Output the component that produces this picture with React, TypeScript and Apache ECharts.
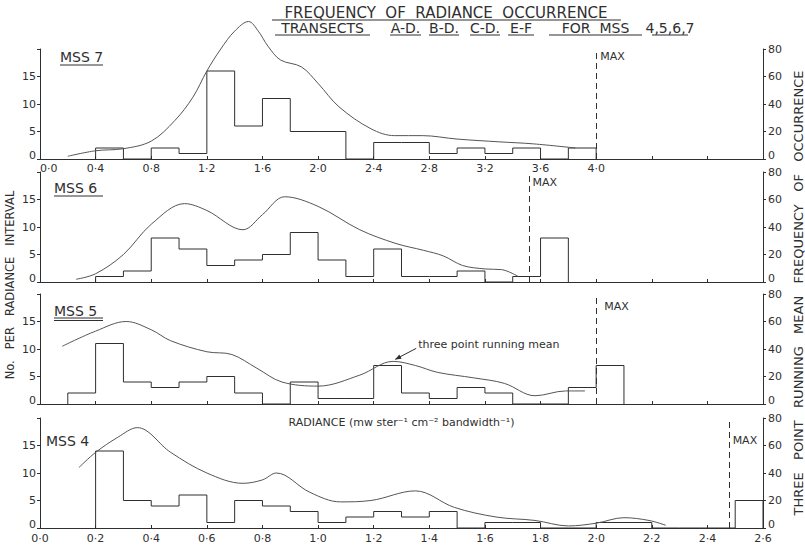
import { useEffect, useRef } from 'react';
import * as echarts from 'echarts';

// ---------- data ----------
// MSS 7 : histogram bins of 0.2 starting at 0.4, radiance axis 0–5.2
const mss7BinStart = 0.4;
const mss7BinWidth = 0.2;
const mss7Counts = [2, 0, 2, 1, 16, 6, 11, 5, 5, 0, 3, 3, 1, 2, 1, 2, 0, 2];
const mss7Mean = [
  [0.2, 2], [0.4, 6], [0.6, 7.5], [0.8, 13], [0.97, 28], [1.1, 45], [1.2, 64], [1.3, 80], [1.4, 93],
  [1.5, 100], [1.57, 93], [1.64, 82], [1.73, 72], [1.88, 67], [2.0, 55], [2.15, 38], [2.38, 22],
  [2.55, 17], [2.75, 17], [3.0, 14.5], [3.3, 12.5], [3.55, 11], [3.85, 8],
];
const mss7Max = 4.0;

// MSS 6 : bins of 0.1 starting at 0.2, radiance axis 0–2.6
const mss6BinStart = 0.2;
const mss6BinWidth = 0.1;
const mss6Counts = [1, 2, 8, 6, 3, 4, 5, 9, 4, 1, 6, 1, 1, 2, 0, 1, 8];
const mss6Mean = [
  [0.13, 2], [0.2, 6], [0.3, 20], [0.4, 42], [0.52, 57], [0.6, 52], [0.73, 38], [0.8, 49],
  [0.88, 62], [1.0, 55], [1.15, 38], [1.28, 28], [1.38, 23], [1.45, 19], [1.52, 12], [1.6, 9.5],
  [1.66, 9], [1.72, 4],
];
const mss6Max = 1.76;

// MSS 5 : bins of 0.1 starting at 0.1
const mss5BinStart = 0.1;
const mss5BinWidth = 0.1;
const mss5Counts = [2, 11, 4, 3, 4, 5, 2, 0, 4, 1, 1, 7, 2, 1, 3, 2, 0, 0, 3, 7];
const mss5Mean = [
  [0.08, 42], [0.2, 53], [0.31, 60], [0.4, 54], [0.47, 46], [0.6, 38], [0.69, 36], [0.78, 26],
  [0.87, 16], [1.0, 13], [1.15, 21], [1.27, 31], [1.35, 28], [1.43, 23], [1.56, 19], [1.67, 15],
  [1.78, 6], [1.89, 9.5], [1.96, 9.5],
];
const mss5Max = 2.0;

// MSS 4 : bins of 0.1 starting at 0.2
const mss4BinStart = 0.2;
const mss4BinWidth = 0.1;
const mss4Counts = [14, 5, 4, 6, 1, 5, 4, 3, 1, 2, 3, 2, 3, 0, 1, 1, 0, 0, 1, 1, 0, 0, 0, 5];
const mss4Mean = [
  [0.14, 44], [0.2, 55], [0.28, 66], [0.35, 73], [0.47, 55], [0.6, 40], [0.73, 32.5], [0.8, 35],
  [0.85, 40], [0.97, 26], [1.08, 19], [1.19, 20], [1.35, 27], [1.49, 15], [1.64, 8], [1.78, 5.5],
  [1.9, 1.5], [2.0, 3.5], [2.1, 7.5], [2.19, 5.5], [2.25, 2],
];
const mss4Max = 2.48;

// axes
const mss7AxisMax = 5.2;
const mss7TickStep = 0.4;
const mss7LastLabel = 4.0;
const lowerAxisMax = 2.6;
const lowerTickStep = 0.2;
const countMax = 20;
const countStep = 5;
const meanMax = 80;
const meanStep = 20;

const panelNames = ['MSS 7', 'MSS 6', 'MSS 5', 'MSS 4'];
const titleLine1 = 'FREQUENCY  OF  RADIANCE  OCCURRENCE';
const titleLine2 = ['TRANSECTS', 'A-D.', 'B-D.', 'C-D.', 'E-F', 'FOR  MSS', '4,5,6,7'];
const leftTitle = 'No.   PER   RADIANCE   INTERVAL';
const rightTitle = 'THREE   POINT   RUNNING   MEAN   FREQUENCY   OF   OCCURRENCE';
const radianceName = 'RADIANCE (mw ster⁻¹ cm⁻² bandwidth⁻¹)';
const annotationText = 'three point running mean';
const maxText = 'MAX';

// ---------- helpers ----------
const ink = '#2f2f2f';
const font = 'DejaVu Sans';

function stepData(start: number, width: number, counts: number[]) {
  const pts: number[][] = [[start, 0]];
  counts.forEach((c, i) => pts.push([+(start + i * width).toFixed(3), c]));
  pts.push([+(start + counts.length * width).toFixed(3), 0]);
  return pts;
}

const fmtRad = (v: number) => v.toFixed(1).replace('.', '·');

export default function App() {
  const ref = useRef<HTMLDivElement>(null);

  useEffect(() => {
    if (!ref.current) return;
    const chart = echarts.init(ref.current, null, { renderer: 'svg' });

    const panels = [
      { start: mss7BinStart, width: mss7BinWidth, counts: mss7Counts, mean: mss7Mean, max: mss7Max, maxTop: 19.3, axisMax: mss7AxisMax, step: mss7TickStep, top: 49, labels: 'mss7' },
      { start: mss6BinStart, width: mss6BinWidth, counts: mss6Counts, mean: mss6Mean, max: mss6Max, maxTop: 20, axisMax: lowerAxisMax, step: lowerTickStep, top: 172, labels: 'none' },
      { start: mss5BinStart, width: mss5BinWidth, counts: mss5Counts, mean: mss5Mean, max: mss5Max, maxTop: 19.4, axisMax: lowerAxisMax, step: lowerTickStep, top: 294, labels: 'none' },
      { start: mss4BinStart, width: mss4BinWidth, counts: mss4Counts, mean: mss4Mean, max: mss4Max, maxTop: 20, axisMax: lowerAxisMax, step: lowerTickStep, top: 418, labels: 'all' },
    ];

    const labelStyle = { color: ink, fontSize: 11, fontFamily: font };
    // zero labels on the count / mean axes sit a little above the baseline
    const zeroRich = { z: { color: ink, fontSize: 11, fontFamily: font, padding: [0, 0, 7, 0] } };

    const grid = panels.map((p) => ({ left: 40, width: 723, top: p.top, height: 110 }));

    const xAxis = panels.map((p, i) => ({
      type: 'value',
      gridIndex: i,
      min: 0,
      max: p.axisMax,
      interval: p.step,
      splitLine: { show: false },
      axisLine: { show: true, onZero: false, lineStyle: { color: ink, width: 1 } },
      axisTick: { show: true, inside: true, length: 3, lineStyle: { color: ink } },
      axisLabel: {
        show: p.labels !== 'none',
        ...labelStyle,
        margin: p.labels === 'all' ? 5 : 4,
        alignMinLabel: p.labels === 'mss7' ? 'left' : 'center',
        formatter: (v: number) => (p.labels === 'mss7' && v > mss7LastLabel + 1e-6 ? '' : fmtRad(v)),
      },
      ...(i === 2
        ? {
            name: radianceName,
            nameLocation: 'middle',
            nameGap: 13,
            nameTextStyle: { color: ink, fontSize: 11, fontFamily: font },
          }
        : {}),
    }));

    const yAxis: any[] = [];
    panels.forEach((_p, i) => {
      yAxis.push({
        type: 'value',
        gridIndex: i,
        position: 'left',
        min: 0,
        max: countMax,
        interval: countStep,
        splitLine: { show: false },
        axisLine: { show: true, lineStyle: { color: ink, width: 1 } },
        axisTick: { show: true, length: 3, lineStyle: { color: ink } },
        axisLabel: {
          ...labelStyle,
          margin: 4,
          rich: zeroRich,
          formatter: (v: number) => (v >= countMax ? '' : v === 0 ? '{z|0}' : String(v)),
        },
      });
      yAxis.push({
        type: 'value',
        gridIndex: i,
        position: 'right',
        min: 0,
        max: meanMax,
        interval: meanStep,
        splitLine: { show: false },
        axisLine: { show: true, lineStyle: { color: ink, width: 1 } },
        axisTick: { show: true, length: 3, lineStyle: { color: ink } },
        axisLabel: {
          ...labelStyle,
          margin: 5,
          rich: zeroRich,
          formatter: (v: number) => (v === 0 ? '{z|0}' : String(v)),
        },
      });
    });

    const series: any[] = [];
    panels.forEach((p, i) => {
      series.push({
        type: 'line',
        xAxisIndex: i,
        yAxisIndex: 2 * i,
        step: 'end',
        data: stepData(p.start, p.width, p.counts),
        symbol: 'none',
        clip: false,
        lineStyle: { color: ink, width: 1 },
        silent: true,
        markLine: {
          silent: true,
          symbol: ['none', 'none'],
          label: { show: false },
          lineStyle: { type: [6, 4], color: ink, width: 1 },
          data: [[{ coord: [p.max, 0] }, { coord: [p.max, p.maxTop] }]],
        },
      });
      series.push({
        type: 'line',
        xAxisIndex: i,
        yAxisIndex: 2 * i + 1,
        data: p.mean,
        smooth: 0.35,
        symbol: 'none',
        clip: false,
        lineStyle: { color: '#555', width: 1 },
        silent: true,
      });
    });

    chart.setOption({
      animation: false,
      backgroundColor: '#ffffff',
      grid,
      xAxis,
      yAxis,
      series,
    });

    const txt = (text: string, x: number, y: number, size: number, align = 'left', rotation = 0) => ({
      type: 'text',
      x,
      y,
      rotation,
      silent: true,
      style: {
        text,
        x: 0,
        y: 0,
        fill: ink,
        fontSize: size,
        fontFamily: font,
        textAlign: align,
        align,
        textVerticalAlign: 'middle',
        verticalAlign: 'middle',
      },
    });
    const ln = (x1: number, y1: number, x2: number, y2: number) => ({
      type: 'line',
      silent: true,
      shape: { x1, y1, x2, y2 },
      style: { stroke: ink, lineWidth: 1 },
    });

    const graphic: any[] = [];
    // main title
    graphic.push(txt(titleLine1, 446, 12.5, 15, 'center'));
    graphic.push(ln(272, 20, 621, 20));
    const l2 = [
      [275, 370], [390, 421], [429, 459], [470, 500], [508, 534], [549, 642], [652, 688],
    ];
    titleLine2.forEach((t, k) => {
      const [a, b] = l2[k];
      graphic.push(txt(t, (a + b) / 2, 28, 14, 'center'));
      graphic.push(ln(a, 35, b, 35));
    });
    // axis titles
    graphic.push(txt(leftTitle, 10, 285, 11.5, 'center', Math.PI / 2));
    graphic.push(txt(rightTitle, 798, 293, 13, 'center', Math.PI / 2));
    // panel names
    const namePos = [[60, 57], [54, 188], [54, 311], [46, 441]];
    panelNames.forEach((n, k) => graphic.push(txt(n, namePos[k][0], namePos[k][1], 14)));
    graphic.push(ln(60, 65, 103, 65));
    graphic.push(ln(54, 196, 103, 196));
    graphic.push(ln(54, 318, 103, 318));
    graphic.push(ln(54, 320.5, 103, 320.5));

    // MAX labels, anchored to the dashed lines
    const maxOffsets = [[4, 4], [3, 10], [8, 9], [3, 22]];
    panels.forEach((p, i) => {
      const pt = chart.convertToPixel({ seriesIndex: 2 * i }, [p.max, p.maxTop]) as number[];
      if (pt) graphic.push(txt(maxText, pt[0] + maxOffsets[i][0], pt[1] + maxOffsets[i][1], 11));
    });

    // annotation on MSS 5 running mean
    const ap = chart.convertToPixel({ seriesIndex: 5 }, [1.27, 31]) as number[];
    if (ap) {
      const tip = [ap[0] + 2, ap[1] - 2];
      const tail = [ap[0] + 23, ap[1] - 13];
      const dx = tip[0] - tail[0];
      const dy = tip[1] - tail[1];
      const len = Math.hypot(dx, dy);
      const ux = dx / len;
      const uy = dy / len;
      const bx = tip[0] - ux * 6;
      const by = tip[1] - uy * 6;
      const px = -uy * 2.5;
      const py = ux * 2.5;
      graphic.push(ln(tail[0], tail[1], tip[0], tip[1]));
      graphic.push({
        type: 'polygon',
        silent: true,
        shape: { points: [tip, [bx + px, by + py], [bx - px, by - py]] },
        style: { fill: ink },
      });
      graphic.push(txt(annotationText, ap[0] + 25, ap[1] - 17, 11));
    }

    chart.setOption({ graphic });

    return () => chart.dispose();
  }, []);

  return (
    <div
      ref={ref}
      style={{ position: 'absolute', left: 0, top: 0, width: 805, height: 545, background: '#fff' }}
    />
  );
}
